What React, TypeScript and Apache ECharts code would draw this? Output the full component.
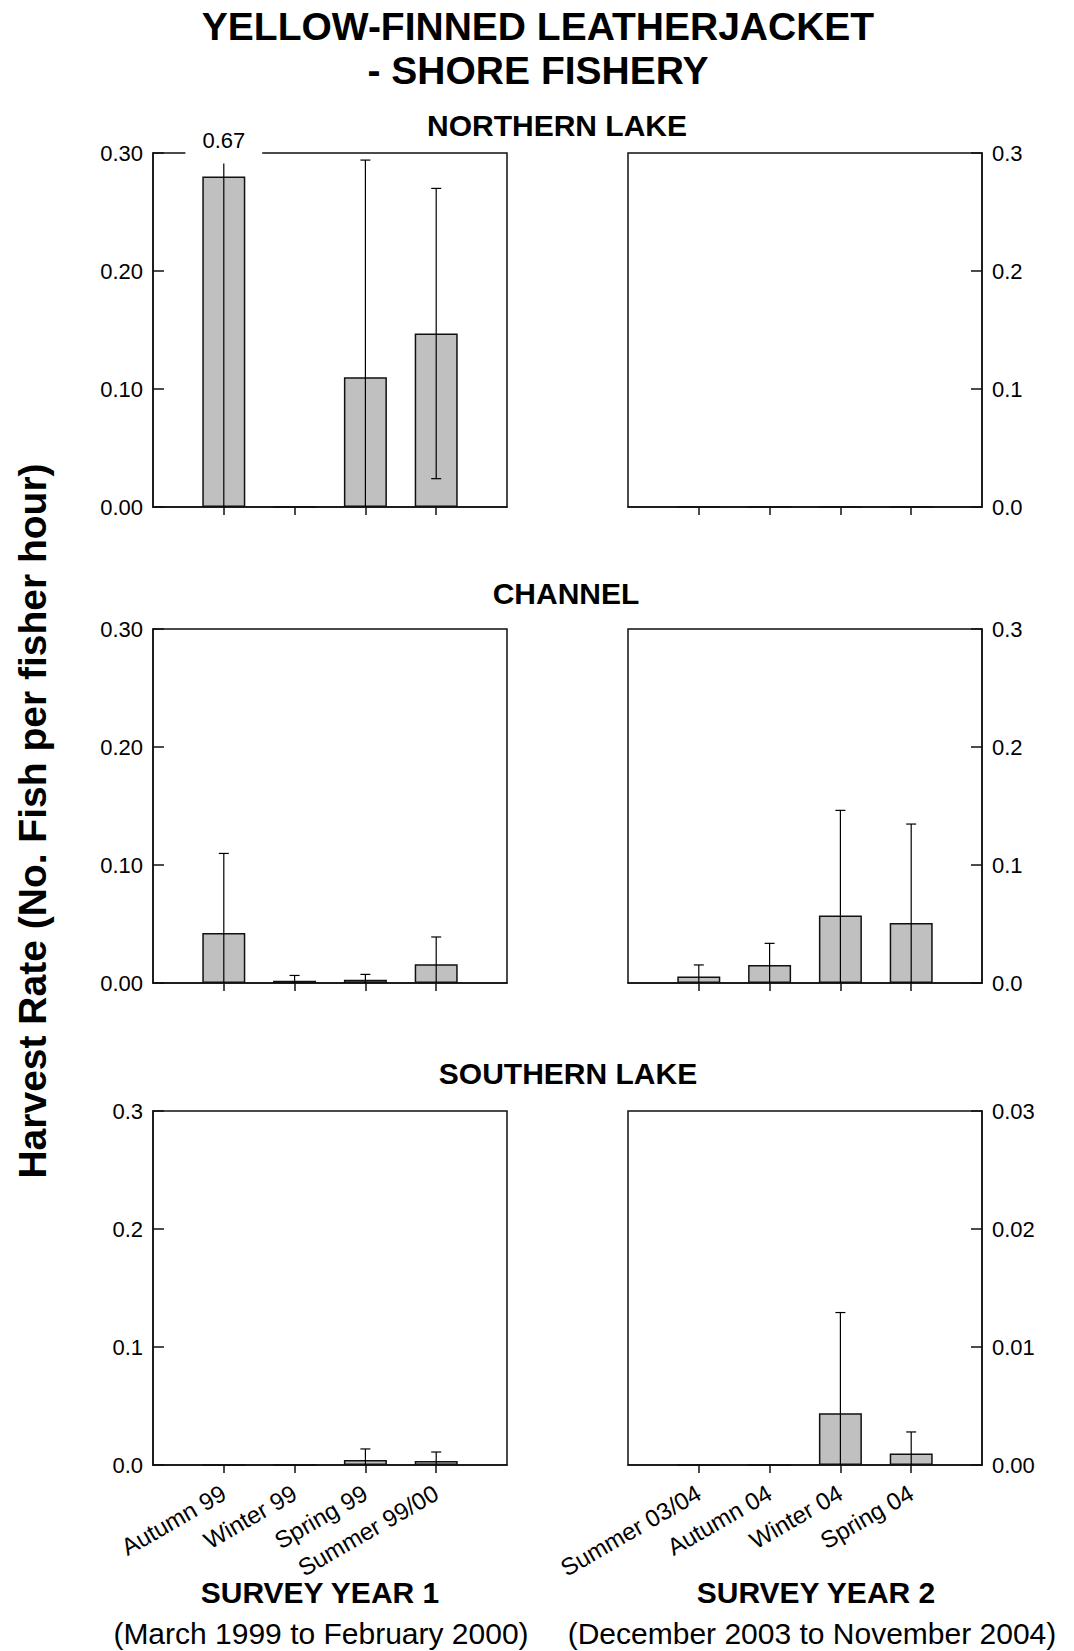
import React, { useEffect, useRef } from 'react';
import * as echarts from 'echarts';

const FONT = '"Liberation Sans", Arial, Helvetica, sans-serif';

const YEAR1_CATS = ['Autumn 99', 'Winter 99', 'Spring 99', 'Summer 99/00'];
const YEAR2_CATS = ['Summer 03/04', 'Autumn 04', 'Winter 04', 'Spring 04'];

const NORTH_Y1_MEAN = [0.28, 0, 0.11, 0.147];
const NORTH_Y1_SE = [0.39, 0, 0.184, 0.123];
const NORTH_Y2_MEAN = [0, 0, 0, 0];
const NORTH_Y2_SE = [0, 0, 0, 0];
const CHANNEL_Y1_MEAN = [0.0424, 0.002, 0.0028, 0.0158];
const CHANNEL_Y1_SE = [0.0674, 0.0044, 0.0045, 0.0232];
const CHANNEL_Y2_MEAN = [0.0056, 0.0153, 0.0573, 0.0508];
const CHANNEL_Y2_SE = [0.0097, 0.0183, 0.089, 0.0839];
const SOUTH_Y1_MEAN = [0, 0, 0.0042, 0.0034];
const SOUTH_Y1_SE = [0, 0, 0.0094, 0.0076];
const SOUTH_Y2_MEAN = [0, 0, 0.00438, 0.00097];
const SOUTH_Y2_SE = [0, 0, 0.00854, 0.00183];

const TICKS_2DP = ['0.00', '0.10', '0.20', '0.30'];
const TICKS_1DP = ['0.0', '0.1', '0.2', '0.3'];
const TICKS_SMALL = ['0.00', '0.01', '0.02', '0.03'];

const LINE = { color: '#111', width: 1.5 };

type Panel = {
  left: number;
  top: number;
  cats: string[];
  mean: number[];
  se: number[];
  side: 'left' | 'right';
  max: number;
  ticks: string[];
  xLabels: boolean;
};

const PANELS: Panel[] = [
  { left: 153, top: 153, cats: YEAR1_CATS, mean: NORTH_Y1_MEAN, se: NORTH_Y1_SE, side: 'left', max: 0.3, ticks: TICKS_2DP, xLabels: false },
  { left: 628, top: 153, cats: YEAR2_CATS, mean: NORTH_Y2_MEAN, se: NORTH_Y2_SE, side: 'right', max: 0.3, ticks: TICKS_1DP, xLabels: false },
  { left: 153, top: 629, cats: YEAR1_CATS, mean: CHANNEL_Y1_MEAN, se: CHANNEL_Y1_SE, side: 'left', max: 0.3, ticks: TICKS_2DP, xLabels: false },
  { left: 628, top: 629, cats: YEAR2_CATS, mean: CHANNEL_Y2_MEAN, se: CHANNEL_Y2_SE, side: 'right', max: 0.3, ticks: TICKS_1DP, xLabels: false },
  { left: 153, top: 1111, cats: YEAR1_CATS, mean: SOUTH_Y1_MEAN, se: SOUTH_Y1_SE, side: 'left', max: 0.3, ticks: TICKS_1DP, xLabels: true },
  { left: 628, top: 1111, cats: YEAR2_CATS, mean: SOUTH_Y2_MEAN, se: SOUTH_Y2_SE, side: 'right', max: 0.03, ticks: TICKS_SMALL, xLabels: true },
];

function makeRenderItem(max: number) {
  return (params: any, api: any) => {
    const idx = api.value(0);
    const mean = api.value(1);
    const se = api.value(2);
    if (!se) return null;
    const up = mean + se;
    const lo = mean - se;
    const over = up > max;
    const upC = over ? max * 0.97 : up;
    const loC = Math.max(lo, 0);
    const pTop = api.coord([idx, upC]);
    const pBot = api.coord([idx, loC]);
    const style = { stroke: '#000', lineWidth: 1.2 };
    const children: any[] = [
      { type: 'line', shape: { x1: pTop[0], y1: pTop[1], x2: pBot[0], y2: pBot[1] }, style },
    ];
    if (!over) {
      children.push({ type: 'line', shape: { x1: pTop[0] - 5, y1: pTop[1], x2: pTop[0] + 5, y2: pTop[1] }, style });
    } else {
      const gridTop = api.coord([idx, max])[1];
      children.push({
        type: 'text',
        x: pTop[0],
        y: gridTop - 13,
        style: {
          text: up.toFixed(2),
          fill: '#000',
          font: `22px ${FONT}`,
          align: 'center',
          verticalAlign: 'middle',
          textAlign: 'center',
          textVerticalAlign: 'middle',
          backgroundColor: '#fff',
          padding: [3, 17, 6, 17],
        },
      });
    }
    if (lo > 0) {
      children.push({ type: 'line', shape: { x1: pBot[0] - 5, y1: pBot[1], x2: pBot[0] + 5, y2: pBot[1] }, style });
    }
    return { type: 'group', children };
  };
}

function text(x: number, y: number, t: string, size: number, bold: boolean, rotation = 0) {
  return {
    type: 'text',
    x,
    y,
    rotation,
    z: 50,
    style: {
      text: t,
      fill: '#000',
      font: `${bold ? 'bold ' : ''}${size}px ${FONT}`,
      align: 'center',
      verticalAlign: 'middle',
      textAlign: 'center',
      textVerticalAlign: 'middle',
    },
  };
}

function buildOption() {
  const grid: any[] = [];
  const xAxis: any[] = [];
  const yAxis: any[] = [];
  const series: any[] = [];
  PANELS.forEach((p, i) => {
    grid.push({ left: p.left, top: p.top, width: 354, height: 354, show: true, borderColor: '#111', borderWidth: 1.5 });
    const n = p.cats.length;
    xAxis.push({
      type: 'category',
      gridIndex: i,
      data: [' ', ...p.cats, '  '],
      boundaryGap: false,
      axisLine: { show: true, lineStyle: LINE },
      axisTick: { show: true, inside: false, length: 8, interval: (idx: number) => idx >= 1 && idx <= n, lineStyle: LINE },
      axisLabel: { show: p.xLabels, interval: 0, rotate: 30, fontSize: 24, color: '#000', margin: 26, fontFamily: FONT },
      splitLine: { show: false },
    });
    const step = p.max / (p.ticks.length - 1);
    yAxis.push({
      type: 'value',
      gridIndex: i,
      position: p.side,
      min: 0,
      max: p.max,
      interval: step,
      axisLine: { show: true, lineStyle: LINE },
      axisTick: { show: true, inside: true, length: 11, lineStyle: LINE },
      axisLabel: {
        fontSize: 22,
        color: '#000',
        margin: 10,
        fontFamily: FONT,
        formatter: (v: number) => p.ticks[Math.round(v / step)],
      },
      splitLine: { show: false },
    });
    series.push({
      type: 'bar',
      xAxisIndex: i,
      yAxisIndex: i,
      data: p.mean.map((v, j) => [j + 1, v]),
      barWidth: 43,
      itemStyle: { color: '#c0c0c0', borderColor: '#111', borderWidth: 1.5 },
      silent: true,
    });
    series.push({
      type: 'custom',
      xAxisIndex: i,
      yAxisIndex: i,
      data: p.mean.map((v, j) => [j + 1, v, p.se[j]]),
      encode: { x: 0, y: 1 },
      renderItem: makeRenderItem(p.max),
      clip: false,
      z: 5,
      silent: true,
    });
  });

  const graphic = [
    text(538, 26, 'YELLOW-FINNED LEATHERJACKET', 39, true),
    text(538, 70, '- SHORE FISHERY', 39, true),
    text(557, 125, 'NORTHERN LAKE', 30, true),
    text(566, 593, 'CHANNEL', 30, true),
    text(568, 1073, 'SOUTHERN LAKE', 30, true),
    text(32, 821, 'Harvest Rate (No. Fish per fisher hour)', 39, true, Math.PI / 2),
    text(320, 1592, 'SURVEY YEAR 1', 30, true),
    text(321, 1633, '(March 1999 to February 2000)', 30, false),
    text(816, 1592, 'SURVEY YEAR 2', 30, true),
    text(812, 1633, '(December 2003 to November 2004)', 30, false),
  ];

  return {
    animation: false,
    backgroundColor: '#fff',
    textStyle: { fontFamily: FONT },
    grid,
    xAxis,
    yAxis,
    series,
    graphic,
  };
}

export default function App() {
  const ref = useRef<HTMLDivElement>(null);
  useEffect(() => {
    const chart = echarts.init(ref.current as HTMLDivElement, null, { renderer: 'svg' });
    chart.setOption(buildOption() as any);
    return () => chart.dispose();
  }, []);
  return (
    <div
      ref={ref}
      style={{ position: 'fixed', left: 0, top: 0, width: 1074, height: 1651, background: '#fff' }}
    />
  );
}
